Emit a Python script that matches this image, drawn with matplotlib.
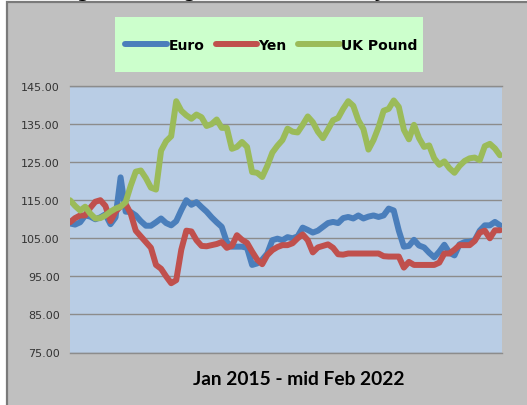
import numpy as np
import matplotlib
matplotlib.use("Agg")
import matplotlib.pyplot as plt
from matplotlib.patches import Rectangle

# Index values (Jan 2015 = start), monthly, Jan 2015 - mid Feb 2022
euro = [108.9, 108.6, 109.2, 111.0, 110.7, 110.0, 110.5, 111.3, 108.7, 110.5,
        121.0, 112.0, 111.9, 111.0, 109.5, 108.3, 108.3, 109.2, 110.2, 109.0,
        108.4, 109.5, 112.4, 115.0, 113.8, 114.5, 113.2, 112.0, 110.5, 109.2,
        108.0, 104.0, 102.8, 102.8, 102.8, 102.5, 98.0, 98.4, 99.4, 101.0,
        104.5, 104.9, 104.5, 105.3, 105.0, 105.5, 107.8, 107.2, 106.5, 107.0,
        108.0, 109.0, 109.3, 109.0, 110.3, 110.6, 110.2, 111.0, 110.2, 110.7,
        111.0, 110.6, 111.0, 112.8, 112.3, 107.0, 102.8, 103.0, 104.6, 103.1,
        102.6, 101.2, 100.0, 101.5, 103.3, 101.2, 100.5, 103.4, 104.0, 104.1,
        104.5, 107.0, 108.4, 108.4, 109.3, 108.4]

yen = [109.2, 110.3, 111.0, 111.0, 113.0, 114.6, 115.0, 113.5, 109.5, 112.0,
       113.4, 114.0, 111.5, 107.0, 105.5, 104.0, 102.5, 98.0, 97.0, 95.0,
       93.2, 94.0, 102.0, 107.0, 106.8, 104.5, 103.0, 102.9, 103.2, 103.5,
       104.0, 102.5, 103.0, 105.8, 104.6, 103.8, 101.5, 99.4, 98.2, 100.6,
       101.9, 102.7, 103.2, 103.2, 103.7, 105.0, 106.0, 104.5, 101.3, 102.6,
       103.0, 103.4, 102.5, 100.8, 100.7, 101.0, 101.0, 101.0, 101.0, 101.0,
       101.0, 101.0, 100.3, 100.2, 100.2, 100.2, 97.3, 98.8, 98.0, 98.0,
       98.0, 98.0, 98.0, 98.6, 101.0, 101.0, 102.0, 103.2, 103.2, 103.2,
       104.3, 106.5, 107.0, 105.0, 107.1, 107.1]

pound = [115.0, 113.5, 112.3, 113.3, 111.5, 110.2, 110.3, 111.0, 112.0, 112.8,
         113.3, 114.5, 118.8, 122.5, 122.8, 120.8, 118.3, 117.8, 128.0, 130.5,
         131.8, 141.0, 138.5, 137.3, 136.4, 137.5, 136.8, 134.5, 135.0, 136.2,
         134.0, 134.0, 128.5, 129.0, 130.3, 129.0, 122.4, 122.2, 121.1, 124.0,
         127.5, 129.3, 130.8, 133.8, 133.0, 132.8, 134.8, 137.0, 135.5, 133.0,
         131.3, 133.6, 136.0, 136.6, 139.0, 141.0, 139.8, 136.0, 133.7, 128.3,
         130.8, 134.2, 138.5, 139.0, 141.2, 139.5, 133.5, 131.0, 134.8, 131.3,
         129.0, 129.4, 126.0, 124.3, 125.2, 123.4, 122.2, 124.0, 125.3, 126.0,
         126.2, 125.5, 129.2, 129.8, 128.6, 126.8]

series_names = ["Euro", "Yen", "UK Pound"]
series_colors = ["#4a7ebb", "#c0504d", "#9bbb59"]
y_ticks = [75, 85, 95, 105, 115, 125, 135, 145]

fig = plt.figure(figsize=(5.27, 4.06), dpi=100)
fig.patch.set_facecolor("white")

# grey chart area with dark frame (extends past right/bottom edge)
fig.patches.append(Rectangle((6.5 / 527, -0.05), 1.1, 1.05 - 2.5 / 406,
                             transform=fig.transFigure, facecolor="#c0c0c0",
                             edgecolor="#7a7a7a", linewidth=1.6, zorder=0))

# title, mostly cut off at the top of the image
fig.text(0.515, 1 + 3 / 406, "Exchange Rates against US$ (Index, Jan 2015 = 100)",
         ha="center", va="baseline", fontsize=13, fontweight="bold", color="black")

ax = fig.add_axes([70 / 527, 1 - 353.5 / 406, 431.7 / 527, 266.5 / 406])
ax.set_zorder(2)
ax.set_facecolor("#b9cde5")

x = np.arange(len(euro))
for vals, name, col in zip([euro, yen, pound], series_names, series_colors):
    ax.plot(x, vals, color=col, linewidth=4.3, label=name,
            solid_capstyle="round", solid_joinstyle="round")

ax.set_xlim(0, 85.34)
ax.set_ylim(75, 145)
ax.set_yticks(y_ticks)
ax.set_yticklabels([f"{v:.2f}" for v in y_ticks])
ax.set_xticks([])
ax.tick_params(axis="y", length=0, pad=7.5, labelsize=8, labelcolor="#333333")
ax.yaxis.grid(True, color="#8c8c8c", linewidth=1.0)
ax.set_axisbelow(True)
for side in ("left", "right"):
    ax.spines[side].set_visible(False)
for side in ("top", "bottom"):
    ax.spines[side].set_color("#8c8c8c")
    ax.spines[side].set_linewidth(1.0)

# legend box
fig.patches.append(Rectangle((115 / 527, 1 - 73 / 406), 308 / 527, 55 / 406,
                             transform=fig.transFigure, facecolor="#ccffcc",
                             edgecolor="none", zorder=1))
handles, labels = ax.get_legend_handles_labels()
leg = fig.legend(handles, labels, loc="center", bbox_to_anchor=(0.515, 1 - 45.5 / 406),
                 ncol=3, frameon=False, handlelength=3.0, handletextpad=0.1,
                 columnspacing=0.8, prop={"weight": "bold", "size": 10})
leg.set_zorder(3)

fig.text(0.567, 1 - 380 / 406, "Jan 2015 - mid Feb 2022", ha="center", va="center",
         fontsize=13.8, fontweight="bold", family="Lato", color="black")

fig.savefig("out.png", dpi=100)
